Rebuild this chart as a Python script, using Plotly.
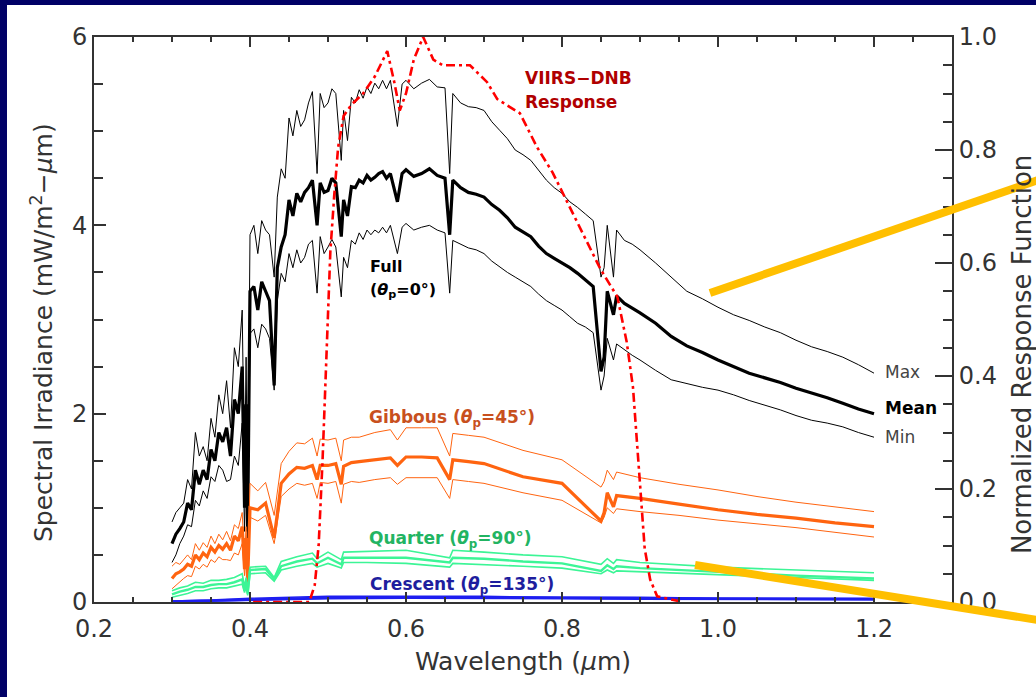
import plotly.graph_objects as go

# ---------------- data ----------------
wl_full = [0.300,0.305,0.310,0.315,0.320,0.325,0.330,0.335,0.340,0.345,
           0.350,0.355,0.360,0.365,0.370,0.375,0.380,0.385,0.390,0.393,
           0.395,0.397,0.400,0.405,0.410,0.415,0.420,0.425,0.431,0.435,
           0.440,0.445,0.450,0.455,0.460,0.465,0.470,0.475,0.480,0.486,
           0.490,0.495,0.500,0.505,0.510,0.517,0.520,0.525,0.530,0.535,
           0.540,0.545,0.550,0.555,0.560,0.565,0.570,0.575,0.580,0.589,
           0.595,0.600,0.610,0.620,0.630,0.640,0.650,0.656,0.660,0.670,
           0.680,0.690,0.700,0.710,0.720,0.730,0.740,0.750,0.760,0.770,
           0.780,0.790,0.800,0.810,0.820,0.830,0.840,0.850,0.854,0.858,
           0.866,0.870,0.880,0.890,0.900,0.920,0.940,0.960,0.980,1.000,
           1.020,1.040,1.060,1.080,1.100,1.120,1.140,1.160,1.180,1.200]
full_max = [0.85,0.95,1.00,1.05,1.30,1.20,1.80,1.55,1.65,1.50,
            1.95,1.75,2.20,2.00,2.35,1.85,2.70,2.50,3.10,1.30,
            2.60,0.95,3.90,4.00,3.70,4.05,3.95,3.90,3.45,4.30,
            4.60,4.50,5.14,4.95,5.22,5.05,5.12,5.30,5.42,4.55,
            5.40,5.25,5.30,5.45,5.40,4.69,5.22,4.90,5.36,5.30,
            5.44,5.35,5.47,5.40,5.51,5.45,5.54,5.45,5.54,5.05,
            5.50,5.54,5.45,5.51,5.55,5.47,5.46,4.55,5.40,5.30,
            5.26,5.25,5.22,5.10,5.01,4.92,4.80,4.75,4.69,4.58,
            4.48,4.40,4.34,4.25,4.19,4.12,4.05,3.45,3.55,4.00,
            3.45,3.95,3.84,3.80,3.74,3.60,3.45,3.30,3.22,3.13,
            3.05,2.99,2.92,2.86,2.78,2.71,2.66,2.60,2.52,2.43]
full_mean = [0.62,0.72,0.78,0.85,1.05,0.98,1.40,1.25,1.40,1.30,
             1.62,1.50,1.80,1.70,1.85,1.55,2.15,2.00,2.50,1.00,
             2.10,0.75,3.30,3.35,3.10,3.40,3.30,3.20,2.30,3.55,
             3.77,3.90,4.27,4.10,4.34,4.25,4.35,4.40,4.48,4.00,
             4.45,4.35,4.37,4.50,4.45,3.88,4.27,4.10,4.41,4.40,
             4.48,4.45,4.53,4.48,4.51,4.55,4.57,4.50,4.55,4.25,
             4.55,4.59,4.52,4.55,4.60,4.53,4.50,3.90,4.48,4.40,
             4.35,4.33,4.30,4.22,4.16,4.08,3.98,3.93,3.88,3.78,
             3.70,3.65,3.60,3.55,3.49,3.42,3.35,2.45,2.60,3.30,
             3.05,3.25,3.17,3.12,3.07,2.96,2.82,2.72,2.65,2.57,
             2.50,2.43,2.38,2.33,2.27,2.22,2.17,2.11,2.05,2.00]
full_min = [0.42,0.50,0.62,0.70,0.82,0.80,1.08,1.02,1.18,1.10,
            1.33,1.28,1.45,1.40,1.28,1.30,1.55,1.45,1.90,0.75,
            1.60,0.60,2.85,2.90,2.70,2.95,2.90,2.80,2.25,3.20,
            3.49,3.40,3.70,3.55,3.74,3.60,3.66,3.80,3.84,3.28,
            3.88,3.70,3.77,3.85,3.77,3.24,3.66,3.55,3.84,3.80,
            3.92,3.85,3.95,3.90,3.95,3.92,3.98,3.92,4.00,3.70,
            3.98,4.02,3.95,3.98,4.00,3.95,3.92,3.28,3.84,3.80,
            3.76,3.74,3.70,3.62,3.56,3.50,3.45,3.40,3.35,3.27,
            3.20,3.15,3.10,3.03,2.96,2.92,2.86,2.25,2.40,2.80,
            2.57,2.74,2.68,2.62,2.57,2.46,2.36,2.32,2.28,2.25,
            2.20,2.14,2.09,2.04,1.98,1.93,1.90,1.86,1.80,1.75]

wl_gib = [0.300,0.305,0.310,0.315,0.320,0.325,0.330,0.335,0.340,0.345,
          0.350,0.355,0.360,0.365,0.370,0.375,0.380,0.385,0.390,0.393,
          0.395,0.397,0.400,0.410,0.420,0.431,0.440,0.450,0.460,0.470,
          0.480,0.486,0.490,0.500,0.510,0.517,0.520,0.530,0.540,0.560,
          0.580,0.589,0.600,0.620,0.640,0.656,0.660,0.680,0.700,0.750,
          0.800,0.850,0.854,0.858,0.866,0.870,0.900,0.950,1.000,1.050,
          1.100,1.150,1.200]
gib_max = [0.38,0.42,0.40,0.45,0.50,0.45,0.62,0.55,0.63,0.58,
           0.70,0.62,0.72,0.66,0.75,0.65,0.82,0.78,0.95,0.45,
           0.80,0.30,1.26,1.18,1.27,0.92,1.47,1.60,1.69,1.68,
           1.74,1.55,1.73,1.72,1.74,1.50,1.72,1.75,1.75,1.80,
           1.83,1.72,1.85,1.85,1.85,1.55,1.79,1.77,1.75,1.61,
           1.51,1.22,1.28,1.40,1.30,1.38,1.32,1.25,1.19,1.12,
           1.06,1.01,0.96]
gib_mean = [0.25,0.30,0.32,0.35,0.40,0.38,0.50,0.45,0.52,0.48,
            0.58,0.53,0.60,0.56,0.62,0.55,0.70,0.65,0.80,0.35,
            0.68,0.22,1.00,0.98,1.05,0.68,1.26,1.36,1.43,1.42,
            1.45,1.30,1.45,1.45,1.47,1.25,1.44,1.48,1.49,1.51,
            1.53,1.45,1.54,1.54,1.53,1.30,1.51,1.49,1.47,1.33,
            1.26,0.86,0.95,1.16,1.01,1.13,1.10,1.04,0.98,0.93,
            0.89,0.84,0.80]
gib_min = [0.14,0.18,0.22,0.25,0.28,0.27,0.38,0.35,0.40,0.37,
           0.45,0.42,0.48,0.45,0.45,0.44,0.52,0.50,0.62,0.28,
           0.55,0.18,0.90,0.86,0.92,0.62,1.12,1.20,1.26,1.24,
           1.26,1.10,1.27,1.26,1.28,1.05,1.25,1.28,1.27,1.30,
           1.32,1.25,1.32,1.32,1.32,1.10,1.30,1.28,1.26,1.16,
           1.08,0.84,0.90,1.00,0.94,0.99,0.96,0.92,0.87,0.83,
           0.79,0.74,0.69]

wl_qtr = [0.300,0.310,0.320,0.330,0.340,0.350,0.360,0.370,0.380,0.390,
          0.393,0.395,0.397,0.400,0.420,0.431,0.440,0.460,0.480,0.486,
          0.500,0.517,0.520,0.550,0.600,0.656,0.660,0.700,0.750,0.800,
          0.850,0.858,0.866,0.870,0.900,1.000,1.100,1.200]
qtr_max = [0.12,0.15,0.17,0.21,0.20,0.23,0.23,0.24,0.26,0.30,
           0.16,0.26,0.12,0.37,0.38,0.26,0.43,0.48,0.52,0.46,
           0.53,0.45,0.53,0.54,0.55,0.47,0.55,0.53,0.50,0.48,
           0.40,0.46,0.41,0.45,0.42,0.37,0.34,0.31]
qtr_mean = [0.08,0.11,0.13,0.16,0.16,0.18,0.19,0.19,0.21,0.24,
            0.12,0.21,0.09,0.34,0.35,0.24,0.38,0.43,0.46,0.41,
            0.47,0.40,0.47,0.47,0.47,0.42,0.47,0.46,0.43,0.41,
            0.33,0.39,0.35,0.38,0.36,0.32,0.28,0.25]
qtr_min = [0.05,0.07,0.09,0.12,0.12,0.14,0.15,0.15,0.17,0.19,
           0.10,0.17,0.07,0.30,0.31,0.22,0.34,0.38,0.41,0.37,
           0.41,0.36,0.42,0.42,0.41,0.37,0.41,0.40,0.38,0.36,
           0.30,0.34,0.31,0.33,0.32,0.29,0.26,0.23]

wl_cres = [0.30,0.35,0.40,0.45,0.50,0.60,0.70,0.80,0.90,1.00,1.10,1.20]
cres_max = [0.010,0.020,0.040,0.050,0.060,0.060,0.060,0.050,0.050,0.040,0.040,0.040]
cres_mean = [0.005,0.015,0.030,0.040,0.045,0.050,0.050,0.045,0.040,0.035,0.035,0.030]
cres_min = [0.000,0.010,0.020,0.030,0.035,0.040,0.040,0.035,0.030,0.030,0.025,0.025]

wl_rsr = [0.404,0.476,0.483,0.488,0.493,0.498,0.503,0.508,0.513,0.520,
          0.530,0.545,0.560,0.576,0.585,0.592,0.600,0.610,0.622,0.635,
          0.647,0.660,0.682,0.704,0.717,0.746,0.768,0.788,0.806,0.827,
          0.849,0.871,0.883,0.891,0.900,0.906,0.913,0.922,0.955]
rsr = [0.00,0.00,0.03,0.10,0.25,0.45,0.62,0.72,0.805,0.86,
       0.88,0.90,0.93,0.975,0.92,0.87,0.90,0.96,1.00,0.96,
       0.95,0.95,0.95,0.92,0.89,0.865,0.805,0.76,0.71,0.65,
       0.59,0.54,0.46,0.38,0.21,0.095,0.04,0.01,0.00]

x_ticks = [0.2, 0.4, 0.6, 0.8, 1.0, 1.2]
y_ticks = [0, 2, 4, 6]
y2_ticks = [0.0, 0.2, 0.4, 0.6, 0.8, 1.0]

# ---------------- styling ----------------
NAVY = "#000066"
AX = "#333333"
FONT = "DejaVu Sans"
BLACK = "#000000"
ORANGE = "#FF6410"
GREEN = "#3CF596"
BLUE = "#1E1EF0"
RED = "#FF0000"
GOLD = "#FFBF00"

fig = go.Figure()

def add_group(wl, vmax, vmean, vmin, color, thin=1.0, thick=3.2):
    for vals, w in ((vmax, thin), (vmin, thin), (vmean, thick)):
        fig.add_trace(go.Scatter(x=wl, y=vals, mode="lines",
                                 line=dict(color=color, width=w),
                                 showlegend=False, hoverinfo="skip"))

add_group(wl_full, full_max, full_mean, full_min, BLACK)
add_group(wl_gib, gib_max, gib_mean, gib_min, ORANGE)
add_group(wl_qtr, qtr_max, qtr_mean, qtr_min, GREEN, thin=1.6, thick=2.4)
add_group(wl_cres, cres_max, cres_mean, cres_min, BLUE, thin=1.5, thick=2.5)

fig.add_trace(go.Scatter(x=wl_rsr, y=rsr, mode="lines", yaxis="y2",
                         line=dict(color=RED, width=2.6, dash="9px,4px,3px,4px"),
                         showlegend=False, hoverinfo="skip"))

axis_common = dict(showline=True, linecolor=AX, linewidth=2, ticks="inside",
                   tickcolor=AX, tickwidth=2, showgrid=False, zeroline=False,
                   tickfont=dict(family=FONT, size=24, color=AX))

fig.update_layout(
    width=1036, height=697,
    margin=dict(l=94, r=84, t=37, b=95),
    paper_bgcolor=NAVY, plot_bgcolor="white",
    xaxis=dict(range=[0.2, 1.3], tickvals=x_ticks,
               ticktext=[f"{v:.1f}" for v in x_ticks], ticklen=10,
               mirror="ticks", ticklabelstandoff=4,
               minor=dict(dtick=0.05, tick0=0.2, ticklen=5, ticks="inside",
                          tickcolor=AX, tickwidth=1.5),
               **axis_common),
    yaxis=dict(range=[0, 6], tickvals=y_ticks, ticklen=12,
               minor=dict(dtick=0.5, tick0=0, ticklen=9, ticks="inside",
                          tickcolor=AX, tickwidth=1.5),
               **axis_common),
    yaxis2=dict(range=[0, 1], overlaying="y", side="right", tickvals=y2_ticks,
                ticktext=[f"{v:.1f}" for v in y2_ticks], ticklen=17,
                minor=dict(dtick=0.05, tick0=0, ticklen=9, ticks="inside",
                           tickcolor=AX, tickwidth=1.5),
                **axis_common),
)

# white panel on navy border
fig.add_shape(type="rect", xref="paper", yref="paper",
              x0=-0.1014, x1=1.25, y0=-0.35, y1=1.0566,
              fillcolor="white", line=dict(width=0), layer="below")

# decorative callout lines
fig.add_shape(type="line", xref="paper", yref="paper",
              x0=0.7179, y0=0.5469, x1=1.1142, y1=0.754,
              line=dict(color=GOLD, width=8), layer="above")
fig.add_shape(type="line", xref="paper", yref="paper",
              x0=0.7005, y0=0.0655, x1=1.1142, y1=-0.0354,
              line=dict(color=GOLD, width=8), layer="above")

def note(text, x, y, color, size=17, bold=True, xanchor="left", **kw):
    t = f"<b>{text}</b>" if bold else text
    fig.add_annotation(text=t, x=x, y=y, xref=kw.pop("xref", "x"),
                       yref=kw.pop("yref", "y"), showarrow=False,
                       xanchor=xanchor, yanchor="middle",
                       font=dict(family=FONT, size=size, color=color), **kw)

theta = "<i>θ</i><sub>p</sub>"
note("VIIRS−DNB", 0.75, 5.56, "#B00000")
note("Response", 0.75, 5.31, "#B00000")
note("Full", 0.551, 3.56, BLACK, size=16)
note(f"({theta}=0°)", 0.551, 3.31, BLACK, size=16)
note(f"Gibbous ({theta}=45°)", 0.55, 1.95, "#C8501E")
note(f"Quarter ({theta}=90°)", 0.55, 0.66, "#22B462")
note(f"Crescent ({theta}=135°)", 0.551, 0.18, "#1E1E9E")
note("Max", 1.212, 2.44, "#444444", size=17, bold=False)
note("Mean", 1.212, 2.06, BLACK, size=17)
note("Min", 1.212, 1.75, "#444444", size=17, bold=False)

# axis titles
note("Wavelength (<i>μ</i>m)", 0.5, -0.106, AX, size=25, bold=False,
     xanchor="center", xref="paper", yref="paper")
note("Spectral Irradiance (mW/m<sup>2</sup>−<i>μ</i>m)", -0.0606, 0.476, AX,
     size=25, bold=False, xanchor="center", xref="paper", yref="paper",
     textangle=-90)
note("Normalized Response Function", 1.0816, 0.437, AX, size=26, bold=False,
     xanchor="center", xref="paper", yref="paper", textangle=-90)

fig.write_html("out.html",
               config={"displayModeBar": False},
               post_script="document.body.style.margin='0px';"
                           "document.body.style.overflow='hidden';")
